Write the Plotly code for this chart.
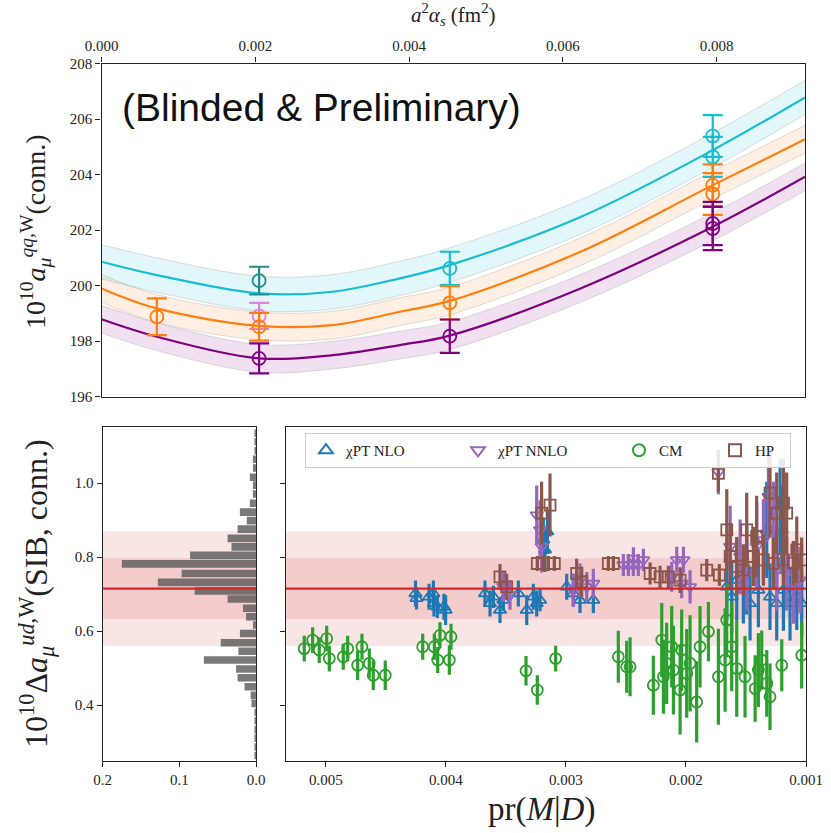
import plotly.graph_objects as go

W, H = 831, 833
SERIF = "Liberation Serif, DejaVu Serif, serif"

# ---------------- top panel: continuum fits vs a^2 alpha_s ----------------
fit_a2 = [0.0, 0.00072, 0.00205, 0.00301, 0.00388, 0.00453, 0.00623, 0.00795, 0.00915]
fit_cyan = [200.86, 200.38, 199.72, 199.78, 200.26, 200.74, 202.47, 204.88, 206.78]
fit_orange = [199.90, 199.18, 198.55, 198.58, 199.06, 199.45, 201.22, 203.62, 205.27]
fit_purple = [198.79, 198.16, 197.38, 197.50, 197.86, 198.20, 199.90, 202.12, 203.92]
band_halfwidth = {"cyan": 0.62, "orange": 0.50, "purple": 0.50}

# lattice data points (a^2 alpha_s, value, error, colour key)
pt_a2 = [0.00072, 0.00205, 0.00205, 0.00205, 0.00205,
         0.00453, 0.00453, 0.00453,
         0.00795, 0.00795, 0.00795, 0.00795, 0.00795, 0.00795]
pt_val = [198.88, 200.18, 198.91, 198.52, 197.38,
          200.62, 199.38, 198.18,
          205.39, 204.64, 203.62, 203.30, 202.24, 202.06]
pt_err = [0.66, 0.50, 0.47, 0.50, 0.54,
          0.60, 0.60, 0.60,
          0.75, 0.72, 0.75, 0.75, 0.78, 0.78]
pt_col = ["orange", "teal", "orchid", "orange", "purple",
          "cyan", "orange", "purple",
          "cyan", "cyan", "orange", "orange", "purple", "purple"]

# ---------------- bottom panels: SIB correction ----------------
sib_center = 0.715
sib_inner = 0.082
sib_outer = 0.155

hist_center = [0.264, 0.287, 0.311, 0.334, 0.358, 0.381,
               0.405, 0.427, 0.450, 0.474, 0.498, 0.522, 0.546, 0.569, 0.594,
               0.617, 0.639, 0.662, 0.687, 0.709, 0.732, 0.756, 0.782, 0.805,
               0.828, 0.851, 0.876, 0.899, 0.922, 0.946, 0.971, 0.995, 1.016,
               1.041, 1.065, 1.088, 1.112, 1.135]
hist_density = [0.002, 0.002, 0.002, 0.002, 0.002, 0.002,
                0.006, 0.007, 0.015, 0.024, 0.026, 0.068, 0.023, 0.046, 0.021,
                0.004, 0.013, 0.017, 0.037, 0.080, 0.128, 0.097, 0.175, 0.086,
                0.032, 0.037, 0.024, 0.012, 0.021, 0.008, 0.004, 0.004, 0.008,
                0.004, 0.004, 0.002, 0.002, 0.002]

nlo_pr = [0.004254, 0.004245, 0.004141, 0.004105, 0.004100, 0.004072, 0.004017, 0.004003,
          0.003675, 0.003633, 0.003605, 0.003550, 0.003522, 0.003397, 0.003327, 0.003272,
          0.003244, 0.003216, 0.002994, 0.002939, 0.002883, 0.002772,
          0.003189, 0.003155, 0.003175,
          0.001660, 0.001619, 0.001577, 0.001522, 0.001466, 0.001494, 0.001397, 0.001327,
          0.001300, 0.001244, 0.001188, 0.001133, 0.001077, 0.001036, 0.001216, 0.001202]
nlo_val = [0.702, 0.689, 0.693, 0.702, 0.675, 0.666, 0.666, 0.657,
           0.702, 0.675, 0.693, 0.657, 0.684, 0.702, 0.657, 0.693,
           0.675, 0.684, 0.720, 0.702, 0.684, 0.684,
           0.847, 0.869, 0.820,
           0.720, 0.693, 0.738, 0.711, 0.675, 0.765, 0.711, 0.874,
           0.693, 0.675, 0.711, 0.675, 0.693, 0.675, 0.937, 0.874]
nlo_err = [0.035, 0.030, 0.035, 0.035, 0.035, 0.030, 0.035, 0.040,
           0.035, 0.035, 0.030, 0.035, 0.030, 0.035, 0.040, 0.035,
           0.035, 0.030, 0.035, 0.035, 0.035, 0.035,
           0.060, 0.060, 0.060,
           0.090, 0.100, 0.110, 0.090, 0.100, 0.120, 0.100, 0.130,
           0.090, 0.100, 0.110, 0.100, 0.090, 0.090, 0.130, 0.120]

nnlo_pr = [0.003522, 0.003466, 0.003244, 0.003216, 0.003203,
           0.002939, 0.002883, 0.002827, 0.002772,
           0.002522, 0.002480, 0.002439, 0.002397, 0.002438, 0.002355,
           0.002077, 0.002021, 0.002119, 0.001966, 0.002036, 0.001730,
           0.001632, 0.001549, 0.001494, 0.001411, 0.001355, 0.001272, 0.001161,
           0.001105, 0.001050, 0.001244, 0.001313]
nnlo_val = [0.720, 0.698, 0.914, 0.874, 0.829,
            0.711, 0.738, 0.720, 0.729,
            0.779, 0.779, 0.779, 0.779, 0.797, 0.793,
            0.793, 0.793, 0.747, 0.720, 0.729, 1.030,
            0.829, 0.802, 0.756, 0.829, 0.847, 0.874, 0.756,
            0.720, 0.738, 0.765, 0.964]
nnlo_err = [0.040, 0.040, 0.080, 0.080, 0.070,
            0.045, 0.045, 0.040, 0.040,
            0.030, 0.030, 0.030, 0.030, 0.030, 0.030,
            0.035, 0.035, 0.040, 0.045, 0.040, 0.060,
            0.110, 0.100, 0.100, 0.120, 0.110, 0.130, 0.100,
            0.100, 0.090, 0.110, 0.110]

cm_pr = [0.005181, 0.005111, 0.005056, 0.004994, 0.004972, 0.004856, 0.004819, 0.004736,
         0.004700, 0.004639, 0.004606, 0.004506, 0.004194, 0.004097, 0.004069, 0.004050,
         0.003972, 0.003958,
         0.003333, 0.003239, 0.003086, 0.002564, 0.002494,
         0.002466, 0.002272, 0.002202, 0.002161, 0.002188, 0.002119, 0.002105, 0.002049,
         0.002036, 0.001994, 0.001966, 0.001911, 0.001883, 0.001813, 0.001730, 0.001674,
         0.001661, 0.001619, 0.001577, 0.001508, 0.001424, 0.001397, 0.001369, 0.001327,
         0.001300, 0.001202, 0.001036]
cm_val = [0.553, 0.576, 0.549, 0.580, 0.526, 0.531, 0.553, 0.508,
          0.558, 0.513, 0.481, 0.481, 0.558, 0.558, 0.522, 0.589,
          0.522, 0.585,
          0.493, 0.441, 0.526, 0.531, 0.504,
          0.504, 0.454, 0.576, 0.513, 0.477, 0.558, 0.495, 0.441,
          0.549, 0.486, 0.513, 0.409, 0.558, 0.599, 0.477, 0.522,
          0.630, 0.558, 0.499, 0.477, 0.445, 0.495, 0.522, 0.459,
          0.423, 0.508, 0.535]
cm_err = [0.035, 0.035, 0.035, 0.035, 0.035, 0.035, 0.035, 0.040,
          0.035, 0.040, 0.040, 0.040, 0.035, 0.035, 0.035, 0.035,
          0.040, 0.035,
          0.040, 0.040, 0.035, 0.070, 0.070,
          0.080, 0.080, 0.100, 0.110, 0.100, 0.110, 0.120, 0.120,
          0.110, 0.120, 0.130, 0.110, 0.110, 0.080, 0.130, 0.140,
          0.100, 0.120, 0.130, 0.110, 0.090, 0.100, 0.080, 0.090,
          0.090, 0.070, 0.090]

hp_pr = [0.003550, 0.003494, 0.003203, 0.003133, 0.003239, 0.003189, 0.003147, 0.003097,
         0.002911, 0.002869, 0.002647, 0.002605,
         0.002299, 0.002216, 0.002147, 0.002049, 0.001827, 0.001722, 0.001730,
         0.001660, 0.001632, 0.001494, 0.001411, 0.001300, 0.001244, 0.001188, 0.001161,
         0.001077, 0.001438, 0.001355, 0.001272, 0.001188, 0.001105, 0.001036, 0.001577,
         0.001522]
hp_val = [0.747, 0.720, 0.919, 0.941, 0.783, 0.783, 0.783, 0.783,
          0.756, 0.734, 0.783, 0.783,
          0.756, 0.747, 0.747, 0.738, 0.765, 0.752, 1.027,
          0.874, 0.802, 0.874, 0.856, 0.973, 0.919, 0.946, 0.919,
          0.820, 0.802, 0.793, 0.783, 0.793, 0.784, 0.793, 0.775,
          0.765]
hp_err = [0.035, 0.035, 0.085, 0.085, 0.020, 0.020, 0.020, 0.020,
          0.040, 0.040, 0.020, 0.020,
          0.030, 0.030, 0.030, 0.035, 0.030, 0.030, 0.050,
          0.110, 0.090, 0.100, 0.110, 0.120, 0.110, 0.120, 0.110,
          0.090, 0.080, 0.070, 0.070, 0.070, 0.060, 0.060, 0.080,
          0.070]

COL = {
    "cyan": "#17becf",
    "teal": "#238b8c",
    "orange": "#ff7f0e",
    "orchid": "#e080d8",
    "purple": "#800080",
}
BAND = {
    "cyan": "rgba(23,190,207,0.13)",
    "orange": "rgba(255,127,14,0.12)",
    "purple": "rgba(128,0,128,0.12)",
}

fig = go.Figure()

# fit bands and central curves
for key, curve in (("purple", fit_purple), ("orange", fit_orange), ("cyan", fit_cyan)):
    hw = band_halfwidth[key]
    lo = [v - hw for v in curve]
    hi = [v + hw for v in curve]
    edge = dict(color="rgba(160,160,160,0.35)", width=1, shape="spline", smoothing=1.0)
    fig.add_trace(go.Scatter(x=fit_a2, y=lo, mode="lines", line=edge,
                             hoverinfo="skip", showlegend=False, xaxis="x", yaxis="y"))
    fig.add_trace(go.Scatter(x=fit_a2, y=hi, mode="lines", line=edge, fill="tonexty",
                             fillcolor=BAND[key], hoverinfo="skip", showlegend=False,
                             xaxis="x", yaxis="y"))
for key, curve in (("purple", fit_purple), ("orange", fit_orange), ("cyan", fit_cyan)):
    fig.add_trace(go.Scatter(x=fit_a2, y=curve, mode="lines",
                             line=dict(color=COL[key], width=2.2, shape="spline", smoothing=1.0),
                             showlegend=False, xaxis="x", yaxis="y"))

# data points with capped error bars
for a, v, e, c in zip(pt_a2, pt_val, pt_err, pt_col):
    fig.add_trace(go.Scatter(
        x=[a], y=[v], mode="markers",
        marker=dict(symbol="circle-open", size=13, color=COL[c], line=dict(width=1.8)),
        error_y=dict(type="data", array=[e], color=COL[c], thickness=2.2, width=10),
        showlegend=False, xaxis="x", yaxis="y"))

# histogram of the SIB correction
fig.add_trace(go.Bar(
    x=hist_density, y=hist_center, orientation="h", width=0.0205,
    marker=dict(color="rgba(85,85,85,0.78)", line=dict(width=0)),
    showlegend=False, xaxis="x2", yaxis="y2"))

# per-analysis results (legend entry widths follow the label lengths)
series = [
    ("χPT NLO", nlo_pr, nlo_val, nlo_err, "#1f77b4", "triangle-up-open", 107),
    ("χPT NNLO", nnlo_pr, nnlo_val, nnlo_err, "#9467bd", "triangle-down-open", 116),
    ("CM", cm_pr, cm_val, cm_err, "#2ca02c", "circle-open", 51),
    ("HP", hp_pr, hp_val, hp_err, "#8c564b", "square-open", 30),
]
for name, xs, ys, es, col, sym, lw in series:
    fig.add_trace(go.Scatter(
        x=xs, y=ys, mode="markers", name=name, legendwidth=lw,
        marker=dict(symbol=sym, size=11, color=col, line=dict(width=1.8, color=col)),
        error_y=dict(type="data", array=es, color=col, thickness=3.2, width=0),
        xaxis="x3", yaxis="y3"))

# averaged result: central line with inner/outer uncertainty bands
shapes = []
for xr in ("x2 domain", "x3 domain"):
    yr = "y2" if xr.startswith("x2") else "y3"
    shapes.append(dict(type="rect", xref=xr, yref=yr, x0=0, x1=1,
                       y0=sib_center - sib_outer, y1=sib_center + sib_outer,
                       fillcolor="rgba(214,39,40,0.12)", line=dict(width=0), layer="below"))
    shapes.append(dict(type="rect", xref=xr, yref=yr, x0=0, x1=1,
                       y0=sib_center - sib_inner, y1=sib_center + sib_inner,
                       fillcolor="rgba(214,39,40,0.13)", line=dict(width=0), layer="below"))
    shapes.append(dict(type="line", xref=xr, yref=yr, x0=0, x1=1,
                       y0=sib_center, y1=sib_center,
                       line=dict(color="#d62728", width=2.2), layer="above"))


def dx(px):
    return px / W


def dy(py):
    return 1 - py / H


tickfont = dict(family=SERIF, size=15, color="#222")
axis_common = dict(showline=True, mirror=True, linecolor="#222", linewidth=1.3,
                   ticks="outside", ticklen=5, tickcolor="#222", showgrid=False,
                   zeroline=False, tickfont=tickfont, automargin=False)

fig.update_layout(
    width=W, height=H,
    margin=dict(l=0, r=0, t=0, b=0, autoexpand=False),
    paper_bgcolor="white", plot_bgcolor="rgba(0,0,0,0)",
    shapes=shapes,
    xaxis=dict(domain=[dx(101.5), dx(805)], range=[0, 0.00915], side="top", anchor="y",
               tickvals=[0.0, 0.002, 0.004, 0.006, 0.008],
               ticktext=["0.000", "0.002", "0.004", "0.006", "0.008"], **axis_common),
    yaxis=dict(domain=[dy(396.7), dy(63.5)], range=[196, 208], anchor="x",
               tickvals=[196, 198, 200, 202, 204, 206, 208], **axis_common),
    xaxis2=dict(domain=[dx(102.7), dx(256)], range=[0.2, 0.0], anchor="y2",
                tickvals=[0.2, 0.1, 0.0], ticktext=["0.2", "0.1", "0.0"], **axis_common),
    yaxis2=dict(domain=[dy(760.7), dy(427)], range=[0.25, 1.152], anchor="x2",
                tickvals=[0.4, 0.6, 0.8, 1.0], ticktext=["0.4", "0.6", "0.8", "1.0"],
                **axis_common),
    xaxis3=dict(domain=[dx(286), dx(806)], range=[0.005333, 0.001], anchor="y3",
                tickvals=[0.005, 0.004, 0.003, 0.002, 0.001],
                ticktext=["0.005", "0.004", "0.003", "0.002", "0.001"], **axis_common),
    yaxis3=dict(domain=[dy(760.7), dy(427)], range=[0.25, 1.152], anchor="x3",
                tickvals=[0.4, 0.6, 0.8, 1.0], showticklabels=False, **axis_common),
    legend=dict(orientation="h", x=dx(305), xanchor="left", y=dy(433), yanchor="top",
                traceorder="normal",
                bgcolor="rgba(255,255,255,0.85)", bordercolor="#cccccc", borderwidth=1,
                font=dict(family=SERIF, size=15, color="#222"), itemsizing="constant"),
    bargap=0.1,
)

annotations = [
    dict(text="(Blinded &amp; Preliminary)", x=dx(120), y=dy(108), xref="paper", yref="paper",
         xanchor="left", yanchor="middle", showarrow=False,
         font=dict(family="Liberation Sans, Arial, sans-serif", size=39, color="#111")),
    dict(text="<i>a</i><sup>2</sup><i>α</i><sub><i>s</i></sub> (fm<sup>2</sup>)",
         x=dx(453), y=dy(14), xref="paper", yref="paper", xanchor="center", yanchor="middle",
         showarrow=False, font=dict(family=SERIF, size=21, color="#222")),
    dict(text="10<sup>10</sup><i>a</i><sub><i>μ</i></sub><sup><i>qq</i>,W</sup>(conn.)",
         x=dx(36), y=dy(232), xref="paper", yref="paper", xanchor="center", yanchor="middle",
         textangle=-90, showarrow=False, font=dict(family=SERIF, size=28, color="#222")),
    dict(text="10<sup>10</sup>Δ<i>a</i><sub><i>μ</i></sub><sup><i>ud</i>,W</sup>(SIB, conn.)",
         x=dx(36), y=dy(594), xref="paper", yref="paper", xanchor="center", yanchor="middle",
         textangle=-90, showarrow=False, font=dict(family=SERIF, size=32, color="#222")),
    dict(text="pr(<i>M</i>|<i>D</i>)", x=dx(541), y=dy(809), xref="paper", yref="paper",
         xanchor="center", yanchor="middle", showarrow=False,
         font=dict(family=SERIF, size=33, color="#222")),
]
fig.update_layout(annotations=annotations)

fig.write_html("out.html")
